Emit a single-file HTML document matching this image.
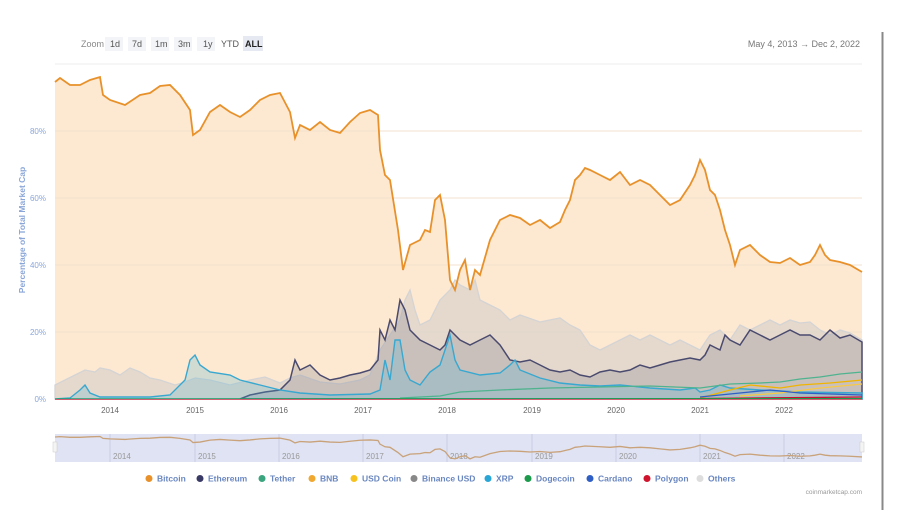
<!DOCTYPE html>
<html><head><meta charset="utf-8"><style>
body{margin:0;background:#fff;width:900px;height:510px;overflow:hidden;font-family:"Liberation Sans",sans-serif}
</style></head><body>
<svg width="900" height="510" xmlns="http://www.w3.org/2000/svg" font-family="Liberation Sans, sans-serif">
<line x1="882.5" y1="32" x2="882.5" y2="510" stroke="#888" stroke-width="2"/>
<!-- toolbar -->
<text x="81" y="47" font-size="9" fill="#888">Zoom</text>
<g font-size="9" fill="#555">
<rect x="105" y="37" width="18" height="14" fill="#f3f4f7"/><text x="110" y="47">1d</text>
<rect x="128" y="37" width="18" height="14" fill="#f3f4f7"/><text x="132" y="47">7d</text>
<rect x="151" y="37" width="18" height="14" fill="#f3f4f7"/><text x="155" y="47">1m</text>
<rect x="174" y="37" width="18" height="14" fill="#f3f4f7"/><text x="178" y="47">3m</text>
<rect x="197" y="37" width="18" height="14" fill="#f3f4f7"/><text x="203" y="47">1y</text>
<text x="221" y="47">YTD</text>
<rect x="243" y="36" width="20" height="15" fill="#e6e9f2"/><text x="245" y="47" font-weight="bold" fill="#222">ALL</text>
</g>
<text x="860" y="47" font-size="9" fill="#777" text-anchor="end">May 4, 2013  →  Dec 2, 2022</text>
<line x1="55" y1="64" x2="862" y2="64" stroke="#eee"/>
<!-- y axis -->
<g font-size="8" fill="#8aa6d8" text-anchor="end">
<text x="46" y="134">80%</text><text x="46" y="201">60%</text><text x="46" y="268">40%</text><text x="46" y="335">20%</text><text x="46" y="402">0%</text>
</g>
<text transform="translate(25,230) rotate(-90)" font-size="8.5" fill="#8aa6d8" text-anchor="middle" font-weight="bold">Percentage of Total Market Cap</text>
<!-- bitcoin -->
<polygon fill="#fde8d2" points="55,399 55,82 60,78 70,85 80,85 90,80 100,77 103,95 110,100 125,105 140,95 150,93 160,86 170,85 180,95 190,110 193,135 200,130 210,112 220,105 230,112 240,117 250,110 260,100 270,95 280,93 290,112 295,138 300,125 310,130 320,122 330,130 340,133 350,122 360,113 370,110 378,115 380,150 385,175 390,180 398,230 403,270 410,245 420,240 425,230 430,232 435,200 440,195 445,220 450,280 455,290 460,270 465,260 470,290 475,270 480,275 490,240 500,220 510,215 520,218 530,225 540,220 550,228 560,222 565,210 570,200 575,180 580,175 585,168 590,170 600,175 610,180 620,172 630,185 640,180 650,185 660,195 670,205 680,200 690,185 695,175 700,160 705,170 710,190 715,195 720,210 725,230 730,245 735,265 740,250 750,245 760,255 770,262 780,263 790,258 800,265 810,262 815,255 820,245 825,255 830,260 840,262 850,265 862,272 862,399"/>
<g stroke="#f3e2cf" stroke-width="1"><line x1="55" y1="131" x2="862" y2="131"/><line x1="55" y1="198" x2="862" y2="198"/><line x1="55" y1="265" x2="862" y2="265"/><line x1="55" y1="332" x2="862" y2="332"/></g>
<!-- others -->
<polygon fill="rgba(200,200,200,0.45)" stroke="#d4d4d4" stroke-width="1.3" points="55,399 55,385 65,380 75,375 85,370 95,372 100,368 110,370 120,375 130,368 140,372 150,378 160,380 175,385 185,382 195,378 210,380 230,385 250,380 265,377 280,383 290,378 300,375 320,382 340,384 360,380 370,375 380,350 390,335 400,320 405,300 410,290 415,310 420,325 430,320 440,300 450,290 455,280 460,285 470,290 475,280 480,300 490,305 500,310 510,320 520,315 540,322 560,318 570,325 580,330 590,345 600,350 610,345 620,340 630,335 640,340 650,335 660,340 670,345 680,340 690,345 700,350 710,335 720,330 730,340 740,325 750,330 760,325 770,320 780,325 790,320 800,323 810,322 820,330 830,335 840,330 850,333 862,340 862,399"/>
<!-- ethereum -->
<polygon fill="rgba(120,120,140,0.25)" stroke="#4a4a6e" stroke-width="1.5" points="240,399 250,395 265,392 280,390 290,380 295,360 300,370 310,365 320,375 330,380 340,378 350,375 360,373 370,370 378,360 380,330 385,340 390,320 395,330 400,300 405,310 410,330 420,340 430,345 440,350 445,345 450,330 455,335 460,340 470,345 480,340 490,335 500,345 510,360 520,362 530,360 540,365 550,370 560,372 570,370 580,375 590,377 600,372 610,370 620,372 630,370 640,365 650,368 660,365 670,362 680,360 690,358 700,360 705,355 710,345 720,350 725,335 730,340 740,345 750,330 760,335 770,340 780,335 790,330 800,335 810,335 820,340 830,330 840,338 850,335 862,342 862,399"/>
<!-- xrp -->
<polygon fill="rgba(80,180,210,0.25)" stroke="#38a8d0" stroke-width="1.4" points="55,399 70,398 80,390 85,385 90,393 100,397 150,397 170,395 185,380 190,360 195,355 200,365 210,372 230,375 240,380 260,385 280,390 300,393 330,395 370,394 380,390 385,360 390,380 395,340 400,340 405,370 410,380 420,385 430,372 440,365 445,350 450,335 455,360 460,370 480,375 500,373 510,365 515,360 520,370 540,378 560,383 580,385 600,386 620,385 650,388 680,390 695,388 700,392 710,390 720,385 730,388 760,390 800,392 862,393 862,399"/>
<!-- tether -->
<polyline fill="none" stroke="#4fb38f" stroke-width="1.3" points="400,398 440,396 460,392 500,390 550,388 600,387 650,386 700,388 730,384 760,383 780,382 800,379 820,377 840,374 862,372"/>
<polyline fill="none" stroke="#f0b400" stroke-width="1.3" points="700,398 730,390 750,385 780,388 800,385 830,383 862,380"/>
<polyline fill="none" stroke="#f7c948" stroke-width="1.3" points="740,396 780,393 820,388 862,384"/>
<polyline fill="none" stroke="#2f5fc4" stroke-width="1.3" points="700,397 740,393 770,390 800,393 862,395"/>
<polyline fill="none" stroke="#c8102e" stroke-width="1.3" points="700,398.5 862,397"/>
<polyline fill="none" stroke="#1a9a4a" stroke-width="1" points="55,399 862,398.5"/>
<!-- bitcoin line -->
<polyline fill="none" stroke="#e8912a" stroke-width="1.8" points="55,82 60,78 70,85 80,85 90,80 100,77 103,95 110,100 125,105 140,95 150,93 160,86 170,85 180,95 190,110 193,135 200,130 210,112 220,105 230,112 240,117 250,110 260,100 270,95 280,93 290,112 295,138 300,125 310,130 320,122 330,130 340,133 350,122 360,113 370,110 378,115 380,150 385,175 390,180 398,230 403,270 410,245 420,240 425,230 430,232 435,200 440,195 445,220 450,280 455,290 460,270 465,260 470,290 475,270 480,275 490,240 500,220 510,215 520,218 530,225 540,220 550,228 560,222 565,210 570,200 575,180 580,175 585,168 590,170 600,175 610,180 620,172 630,185 640,180 650,185 660,195 670,205 680,200 690,185 695,175 700,160 705,170 710,190 715,195 720,210 725,230 730,245 735,265 740,250 750,245 760,255 770,262 780,263 790,258 800,265 810,262 815,255 820,245 825,255 830,260 840,262 850,265 862,272"/>
<line x1="55" y1="399.5" x2="862" y2="399.5" stroke="#d06070" stroke-width="1"/>
<!-- x labels -->
<g font-size="8" fill="#666" text-anchor="middle">
<text x="110" y="413">2014</text><text x="195" y="413">2015</text><text x="279" y="413">2016</text><text x="363" y="413">2017</text><text x="447" y="413">2018</text><text x="532" y="413">2019</text><text x="616" y="413">2020</text><text x="700" y="413">2021</text><text x="784" y="413">2022</text>
</g>
<!-- navigator -->
<rect x="55" y="434" width="807" height="28" fill="#dfe3f3"/>
<g stroke="#c8cde0"><line x1="110" y1="434" x2="110" y2="462"/><line x1="195" y1="434" x2="195" y2="462"/><line x1="279" y1="434" x2="279" y2="462"/><line x1="363" y1="434" x2="363" y2="462"/><line x1="447" y1="434" x2="447" y2="462"/><line x1="532" y1="434" x2="532" y2="462"/><line x1="616" y1="434" x2="616" y2="462"/><line x1="700" y1="434" x2="700" y2="462"/><line x1="784" y1="434" x2="784" y2="462"/></g>
<g font-size="8" fill="#999"><text x="113" y="459">2014</text><text x="198" y="459">2015</text><text x="282" y="459">2016</text><text x="366" y="459">2017</text><text x="450" y="459">2018</text><text x="535" y="459">2019</text><text x="619" y="459">2020</text><text x="703" y="459">2021</text><text x="787" y="459">2022</text></g>
<g transform="translate(0,428.4) scale(1,0.105)"><polyline fill="none" stroke="#c9a27a" stroke-width="1.3" vector-effect="non-scaling-stroke" points="55,82 60,78 70,85 80,85 90,80 100,77 103,95 110,100 125,105 140,95 150,93 160,86 170,85 180,95 190,110 193,135 200,130 210,112 220,105 230,112 240,117 250,110 260,100 270,95 280,93 290,112 295,138 300,125 310,130 320,122 330,130 340,133 350,122 360,113 370,110 378,115 380,150 385,175 390,180 398,230 403,270 410,245 420,240 425,230 430,232 435,200 440,195 445,220 450,280 455,290 460,270 465,260 470,290 475,270 480,275 490,240 500,220 510,215 520,218 530,225 540,220 550,228 560,222 565,210 570,200 575,180 580,175 585,168 590,170 600,175 610,180 620,172 630,185 640,180 650,185 660,195 670,205 680,200 690,185 695,175 700,160 705,170 710,190 715,195 720,210 725,230 730,245 735,265 740,250 750,245 760,255 770,262 780,263 790,258 800,265 810,262 815,255 820,245 825,255 830,260 840,262 850,265 862,272"/></g>
<rect x="53" y="442" width="4" height="10" fill="#f4f4f4" stroke="#ccc" stroke-width="0.5"/>
<rect x="860" y="442" width="4" height="10" fill="#f4f4f4" stroke="#ccc" stroke-width="0.5"/>
<!-- legend -->
<g font-size="8.5" font-weight="bold" fill="#6a87c0">
<circle cx="149" cy="478.5" r="3.5" fill="#e8912a"/><text x="157" y="481.5">Bitcoin</text>
<circle cx="200" cy="478.5" r="3.5" fill="#3a3a66"/><text x="208" y="481.5">Ethereum</text>
<circle cx="262" cy="478.5" r="3.5" fill="#3aa57e"/><text x="270" y="481.5">Tether</text>
<circle cx="312" cy="478.5" r="3.5" fill="#f0a830"/><text x="320" y="481.5">BNB</text>
<circle cx="354" cy="478.5" r="3.5" fill="#f7c21e"/><text x="362" y="481.5">USD Coin</text>
<circle cx="414" cy="478.5" r="3.5" fill="#888"/><text x="422" y="481.5">Binance USD</text>
<circle cx="488" cy="478.5" r="3.5" fill="#2aa6d6"/><text x="496" y="481.5">XRP</text>
<circle cx="528" cy="478.5" r="3.5" fill="#1a9a4a"/><text x="536" y="481.5">Dogecoin</text>
<circle cx="590" cy="478.5" r="3.5" fill="#2f5fc4"/><text x="598" y="481.5">Cardano</text>
<circle cx="647" cy="478.5" r="3.5" fill="#d0142e"/><text x="655" y="481.5">Polygon</text>
<circle cx="700" cy="478.5" r="3.5" fill="#ddd"/><text x="708" y="481.5">Others</text>
</g>
<text x="862" y="494" font-size="6.5" fill="#999" text-anchor="end">coinmarketcap.com</text>
</svg>
</body></html>
